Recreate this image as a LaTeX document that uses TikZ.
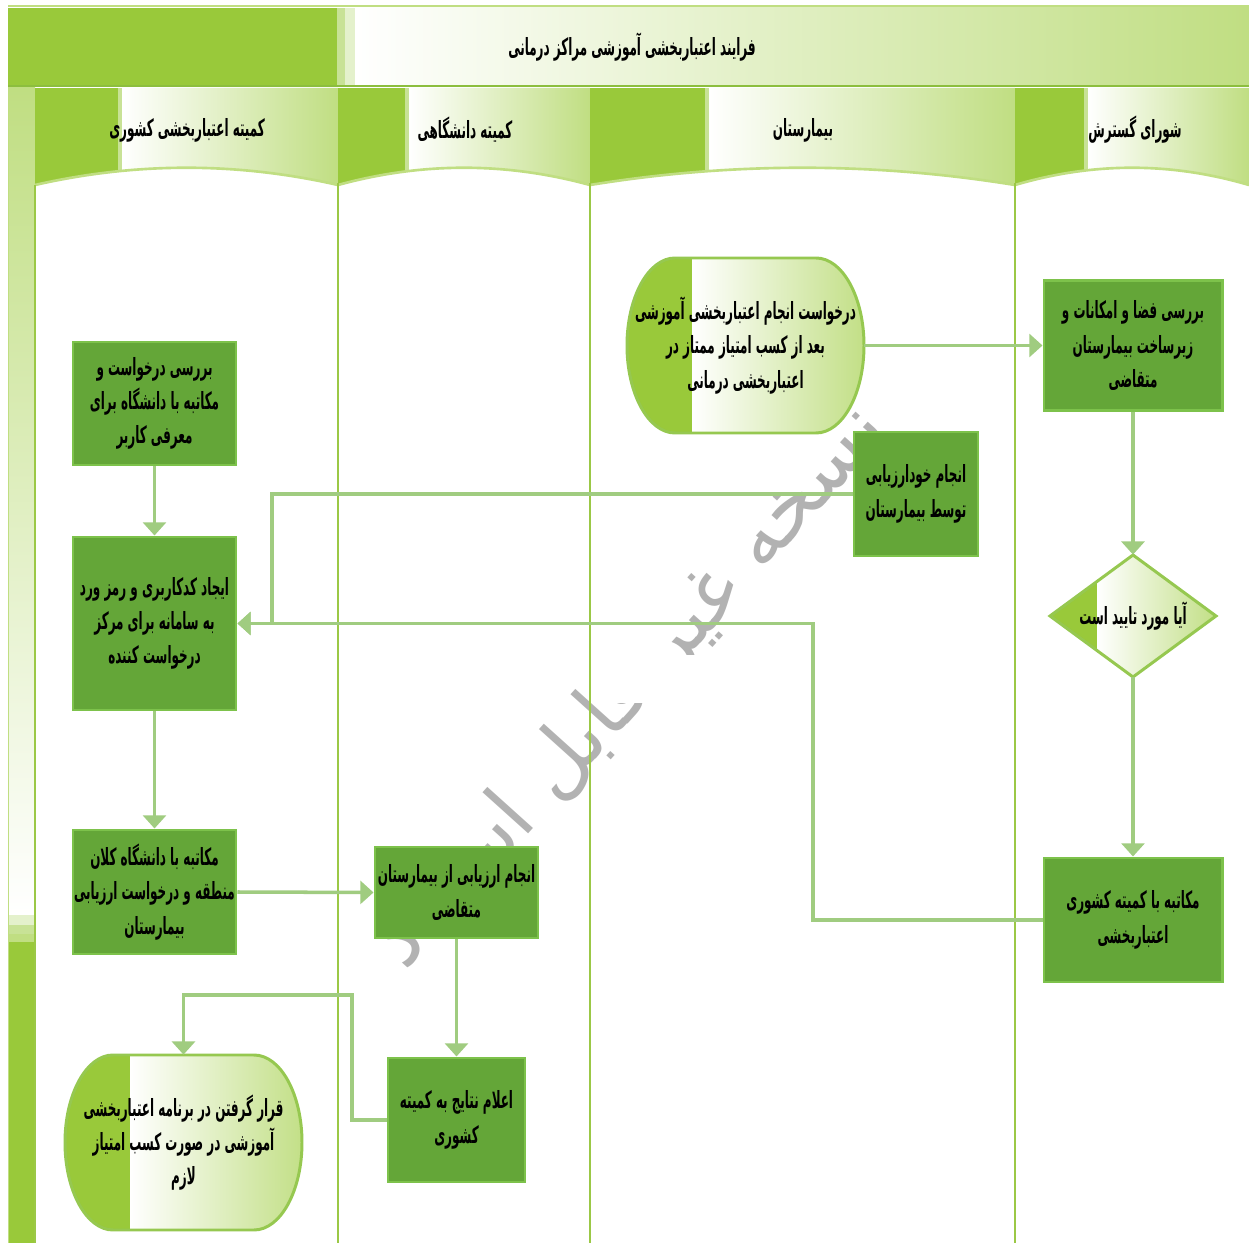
\documentclass[tikz,border=0pt]{standalone}
\usepackage{fontspec}
\usetikzlibrary{arrows.meta,calc}
\TeXXeTstate=1
\newfontfamily\fa[Script=Arabic,FakeStretch=0.56,BoldFont={DejaVu Sans Condensed Bold}]{DejaVu Sans Condensed}
\newfontfamily\faw[Script=Arabic]{DejaVu Sans}
\newcommand\rlline[1]{\beginR #1\endR}
\def\pxl{0.02cm}
\definecolor{solidg}{RGB}{153,201,58}
\definecolor{lightend}{RGB}{192,222,130}
\definecolor{stepa}{RGB}{200,226,150}
\definecolor{stepb}{RGB}{228,241,204}
\definecolor{boxfill}{RGB}{100,166,56}
\definecolor{boxedge}{RGB}{125,194,75}
\definecolor{lanecol}{RGB}{155,200,70}
\definecolor{conncol}{RGB}{160,204,128}
\definecolor{termedge}{RGB}{150,200,80}
\definecolor{bandline}{RGB}{140,190,62}
\tikzset{
  lane/.style={draw=lanecol, line width=1.3pt},
  boxnode/.style={draw=boxedge, fill=boxfill, line width=1.7pt, inner sep=0pt, align=center,
    font=\fa\bfseries\fontsize{13.5}{19.5}\selectfont},
  txtnode/.style={inner sep=0pt, align=center, font=\fa\bfseries\fontsize{13.5}{19.5}\selectfont},
  headtxt/.style={inner sep=0pt, align=center, font=\fa\bfseries\fontsize{13.5}{19.5}\selectfont},
  conn/.style={draw=conncol, line width=2pt, -{Triangle[length=7.5pt,width=13pt]}},
  termline/.style={draw=termedge, line width=1.7pt},
  grad/.style={left color=white, right color=lightend},
}
\begin{document}
\begin{tikzpicture}[x=0.02cm, y=-0.02cm]
\useasboundingbox (0,0) rectangle (1249,1243);
\fill[white] (0,0) rectangle (1249,1243);
% title band
\fill[solidg] (8,8) rectangle (337,85);
\fill[stepa] (337,8) rectangle (345,85);
\fill[stepb] (345,8) rectangle (355,85);
\fill[grad] (355,8) rectangle (1249,85);
\draw[draw=lightend, line width=1.5pt] (8,6) -- (1249,6);
\draw[draw=bandline, line width=1.5pt] (8,86) -- (1249,86);
\node[headtxt] (title) at (632,47) {\rlline{فرایند اعتباربخشی آموزشی مراکز درمانی}};
% left strip
\fill[top color=lightend, bottom color=white] (8,88) rectangle (35,915);
\fill[stepb] (8,915) rectangle (35,925);
\fill[stepa] (8,925) rectangle (35,934);
\fill[lightend] (8,934) rectangle (35,942);
\fill[solidg] (8,942) rectangle (35,1243);
\draw[draw=lightend, line width=1pt] (8.5,88) -- (8.5,1243);
% lane headers
\foreach \xl/\xs/\xr in {35/118/338, 338/405/590, 590/705/1015, 1015/1084/1249}{
  \begin{scope}
    \clip (\xl,88) -- (\xr,88) -- (\xr,185) .. controls ({\xr-(\xr-\xl)/3},162) and ({\xl+(\xr-\xl)/3},162) .. (\xl,185) -- cycle;
    \fill[solidg] (\xl,88) rectangle (\xs,200);
    \fill[stepa] (\xs,88) rectangle ({\xs+4},200);
    \fill[grad] ({\xs+4},88) rectangle (\xr,200);
  \end{scope}
  \draw[draw=lightend, line width=1.5pt] (\xr,185) .. controls ({\xr-(\xr-\xl)/3},162) and ({\xl+(\xr-\xl)/3},162) .. (\xl,185);
}
\node[headtxt] (h1) at (187,130) {\rlline{کمیته اعتباربخشی کشوری}};
\node[headtxt] (h2) at (465,130) {\rlline{کمیته دانشگاهی}};
\node[headtxt] (h3) at (803,130) {\rlline{بیمارستان}};
\node[headtxt] (h4) at (1135,130) {\rlline{شورای گسترش}};
% watermark
\node[rotate=48, text=black!30, font=\faw\fontsize{46}{50}\selectfont, inner sep=0pt] (wm) at (632,688) {\rlline{نسخه غیر قابل استناد}};
\fill[white] (593,655) rectangle (810,703);
% lane lines
\draw[lane] (35,185) -- (35,1243);
\draw[lane] (338,183) -- (338,1243);
\draw[lane] (590,183) -- (590,1243);
\draw[lane] (1015,183) -- (1015,1243);
% terminal G
\begin{scope}
  \clip (675,258) -- (816,258) .. controls (842.5,258) and (864,297.2) .. (864,345.5) .. controls (864,393.8) and (842.5,433) .. (816,433) -- (675,433) .. controls (648.5,433) and (627,393.8) .. (627,345.5) .. controls (627,297.2) and (648.5,258) .. (675,258) -- cycle;
  \fill[solidg] (620,250) rectangle (692,440);
  \fill[grad] (692,250) rectangle (870,440);
\end{scope}
\draw[termline] (675,258) -- (816,258) .. controls (842.5,258) and (864,297.2) .. (864,345.5) .. controls (864,393.8) and (842.5,433) .. (816,433) -- (675,433) .. controls (648.5,433) and (627,393.8) .. (627,345.5) .. controls (627,297.2) and (648.5,258) .. (675,258) -- cycle;
\node[txtnode, minimum width=237*\pxl, minimum height=175*\pxl] (G) at (745.5,345.5) {\rlline{درخواست انجام اعتباربخشی آموزشی}\\\rlline{بعد از کسب امتیاز ممتاز در}\\\rlline{اعتباربخشی درمانی}};
% terminal F
\begin{scope}
  \clip (113,1055) -- (254,1055) .. controls (280.5,1055) and (302,1094.2) .. (302,1142.5) .. controls (302,1190.8) and (280.5,1230) .. (254,1230) -- (113,1230) .. controls (86.5,1230) and (65,1190.8) .. (65,1142.5) .. controls (65,1094.2) and (86.5,1055) .. (113,1055) -- cycle;
  \fill[solidg] (60,1050) rectangle (130,1235);
  \fill[grad] (130,1050) rectangle (310,1235);
\end{scope}
\draw[termline] (113,1055) -- (254,1055) .. controls (280.5,1055) and (302,1094.2) .. (302,1142.5) .. controls (302,1190.8) and (280.5,1230) .. (254,1230) -- (113,1230) .. controls (86.5,1230) and (65,1190.8) .. (65,1142.5) .. controls (65,1094.2) and (86.5,1055) .. (113,1055) -- cycle;
\node[txtnode, minimum width=237*\pxl, minimum height=175*\pxl] (F) at (183.5,1142.5) {\rlline{قرار گرفتن در برنامه اعتباربخشی}\\\rlline{آموزشی در صورت کسب امتیاز}\\\rlline{لازم}};
% diamond J
\begin{scope}
  \clip (1133,555) -- (1216,616) -- (1133,677) -- (1050,616) -- cycle;
  \fill[solidg] (1045,550) rectangle (1097,680);
  \fill[grad] (1097,550) rectangle (1220,680);
\end{scope}
\draw[termline] (1133,555) -- (1216,616) -- (1133,677) -- (1050,616) -- cycle;
\node[txtnode, minimum width=166*\pxl, minimum height=122*\pxl] (J) at (1133,616) {\rlline{آیا مورد تایید است}};
% boxes
\node[boxnode, minimum width=163*\pxl, minimum height=123*\pxl] (A) at (154.5,403.5) {\rlline{بررسی درخواست و}\\\rlline{مکاتبه با دانشگاه برای}\\\rlline{معرفی کاربر}};
\node[boxnode, minimum width=163*\pxl, minimum height=173*\pxl] (B) at (154.5,623.5) {\rlline{ایجاد کدکاربری و رمز ورد}\\\rlline{به سامانه برای مرکز}\\\rlline{درخواست کننده}};
\node[boxnode, minimum width=163*\pxl, minimum height=124*\pxl] (C) at (154.5,892) {\rlline{مکاتبه با دانشگاه کلان}\\\rlline{منطقه و درخواست ارزیابی}\\\rlline{بیمارستان}};
\node[boxnode, minimum width=163*\pxl, minimum height=91*\pxl] (D) at (456.5,892.5) {\rlline{انجام ارزیابی از بیمارستان}\\\rlline{متقاضی}};
\node[boxnode, minimum width=137*\pxl, minimum height=124*\pxl] (E) at (456.5,1120) {\rlline{اعلام نتایج به کمیته}\\\rlline{کشوری}};
\node[boxnode, minimum width=124*\pxl, minimum height=124*\pxl] (H) at (916,494) {\rlline{انجام خودارزیابی}\\\rlline{توسط بیمارستان}};
\node[boxnode, minimum width=178*\pxl, minimum height=130*\pxl] (I) at (1133,345.5) {\rlline{بررسی فضا و امکانات و}\\\rlline{زیرساخت بیمارستان}\\\rlline{متقاضی}};
\node[boxnode, minimum width=178*\pxl, minimum height=124*\pxl] (K) at (1133,920) {\rlline{مکاتبه با کمیته کشوری}\\\rlline{اعتباربخشی}};
% helper coordinates
\coordinate (kb) at (813,623.5);
\coordinate (hb) at (272,623.5);
\coordinate (ef) at (352,995);
\coordinate (ef2) at (183.5,995);
% connectors
\draw[conn] (G.east) -- (I.west);
\draw[conn] (I.south) -- (J.north);
\draw[conn] (J.south) -- (K.north);
\draw[conn] (K.west) -| (kb) -- (B.east);
\draw[conn] (H.west) -| (hb) -- (B.east);
\draw[conn] (A.south) -- (B.north);
\draw[conn] (B.south) -- (C.north);
\draw[conn] (C.east) -- (D.west);
\draw[conn] (D.south) -- (E.north);
\draw[conn] (E.west) -| (ef) -- (ef2) -- (F.north);
\end{tikzpicture}
\end{document}
